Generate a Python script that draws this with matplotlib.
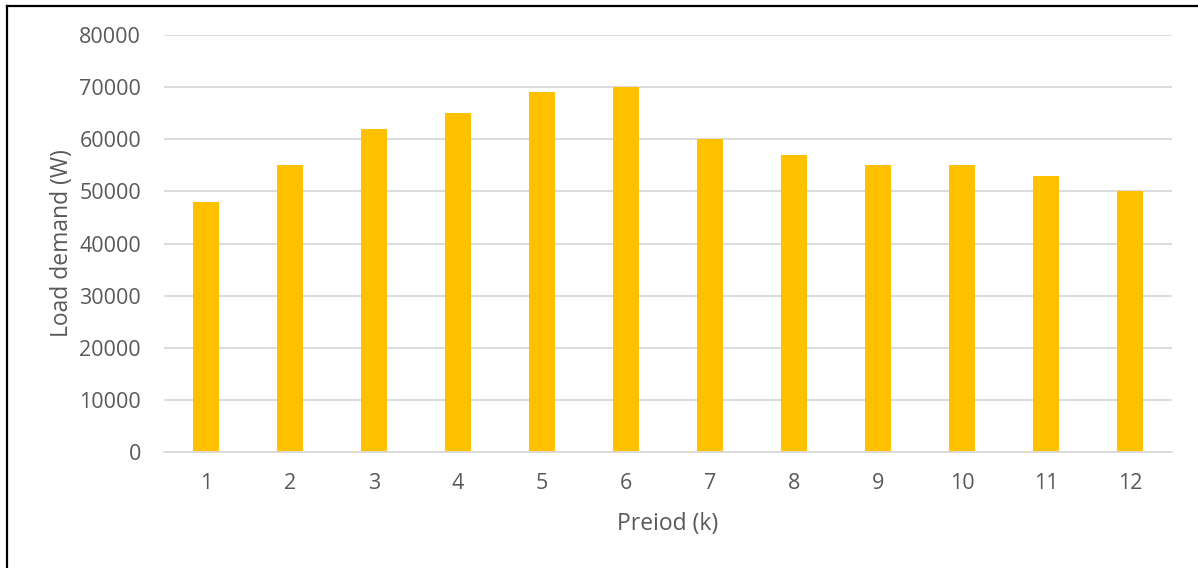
import matplotlib
matplotlib.use("Agg")
import matplotlib.pyplot as plt
from matplotlib.lines import Line2D

periods = ["1", "2", "3", "4", "5", "6", "7", "8", "9", "10", "11", "12"]
load = [48000, 55000, 62000, 65000, 69000, 70000, 60000, 57000, 55000, 55000, 53000, 50000]
yticks = [0, 10000, 20000, 30000, 40000, 50000, 60000, 70000, 80000]

plt.rcParams['font.family'] = ['Open Sans', 'DejaVu Sans']
fig = plt.figure(figsize=(11.98, 5.68), dpi=100)
ax = fig.add_axes([164/1198, 1-452/568, (1172-164)/1198, (452-35)/568])

x = list(range(len(periods)))
ax.bar(x, load, width=0.31, color="#FFC000", zorder=3)
ax.set_xlim(-0.5, len(periods) - 0.5)
ax.set_ylim(0, 80000)
ax.set_yticks(yticks)
ax.set_yticklabels([str(v) for v in yticks])
ax.set_xticks(x)
ax.set_xticklabels(periods)
ax.grid(axis='y', color="#D9D9D9", linewidth=1.3, zorder=0)
for s in ['top', 'right', 'left']:
    ax.spines[s].set_visible(False)
ax.spines['bottom'].set_color("#D9D9D9")
ax.spines['bottom'].set_linewidth(1.3)
ax.spines['bottom'].set_zorder(4)
ax.tick_params(axis='both', length=0, labelsize=15.5, colors="#595959")
ax.tick_params(axis='y', pad=16.5)
ax.tick_params(axis='x', pad=15)
ax.set_xlabel("Preiod (k)", fontsize=16.5, color="#595959", labelpad=13)
ax.set_ylabel("Load demand (W)", fontsize=16.5, color="#595959", labelpad=4)

# figure frame (left and top edges visible)
fig.add_artist(Line2D([6.5/1198, 6.5/1198], [0, 1-5.5/568], transform=fig.transFigure, color="black", linewidth=1.6))
fig.add_artist(Line2D([6.5/1198, 1], [1-5.5/568, 1-5.5/568], transform=fig.transFigure, color="black", linewidth=1.6))

fig.savefig("out.png", dpi=100)
